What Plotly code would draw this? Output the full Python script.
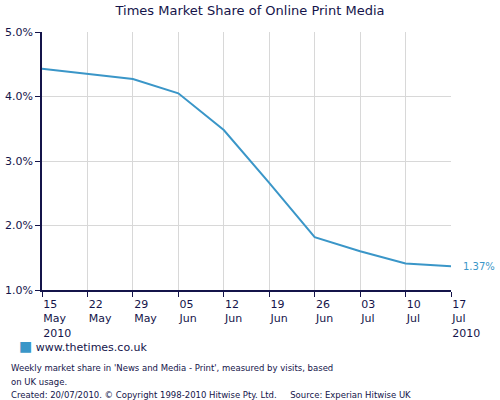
import plotly.graph_objects as go

# weekly data points
weeks = ["15<br>May<br>2010", "22<br>May", "29<br>May", "05<br>Jun", "12<br>Jun",
         "19<br>Jun", "26<br>Jun", "03<br>Jul", "10<br>Jul", "17<br>Jul<br>2010"]
share = [4.43, 4.35, 4.27, 4.05, 3.48, 2.66, 1.82, 1.60, 1.41, 1.37]
ytick_vals = [1.0, 2.0, 3.0, 4.0, 5.0]
site = "www.thetimes.co.uk"

navy = "#14144a"
blue = "#3a96c8"
fnt = "DejaVu Sans"

# plot box in pixels (500x400 page)
L, R, T, B = 42, 49, 32, 110
PW, PH = 500 - L - R, 400 - T - B

xs = list(range(len(share)))

fig = go.Figure()
fig.add_trace(go.Scatter(x=xs, y=share, mode="lines", line=dict(color=blue, width=2),
                         name=site, showlegend=False, hoverinfo="skip"))

fig.add_annotation(x=xs[-1], y=share[-1], xref="x", yref="y", text="%.2f%%" % share[-1],
                   showarrow=False, xanchor="left", xshift=10,
                   font=dict(family=fnt, size=10, color=blue))

# legend key: square swatch + site name
fig.add_annotation(x=(17 - L) / PW, y=(400 - B - 346) / PH, xref="paper", yref="paper",
                   text="<span style='color:%s;font-size:14px'>\u25a0</span> %s" % (blue, site),
                   showarrow=False, xanchor="left", yanchor="middle",
                   font=dict(family=fnt, size=11, color=navy))

foot = ["Weekly market share in 'News and Media - Print', measured by visits, based",
        "on UK usage.",
        "Created: 20/07/2010. \u00a9 Copyright 1998-2010 Hitwise Pty. Ltd.     Source: Experian Hitwise UK"]
for i, t in enumerate(foot):
    px, py = 9, 368 + i * 13.5
    fig.add_annotation(x=(px - L) / PW, y=(400 - B - py) / PH, xref="paper", yref="paper",
                       text=t, showarrow=False, xanchor="left", yanchor="middle",
                       font=dict(family=fnt, size=8.5, color=navy))

fig.update_layout(
    width=500, height=400,
    margin=dict(l=L, r=R, t=T, b=B, autoexpand=False),
    paper_bgcolor="white", plot_bgcolor="white",
    title=dict(text="Times Market Share of Online Print Media", x=0.5, xanchor="center",
               y=0.975, yanchor="middle", font=dict(family=fnt, size=13, color=navy)),
    font=dict(family=fnt, size=11, color=navy),
    showlegend=False,
)
fig.update_xaxes(range=[0, len(share) - 1], tickvals=xs, ticktext=weeks,
                 ticklabelposition="outside right", automargin=False, ticklabelstandoff=3,
                 showline=True, linecolor=navy, linewidth=1.5, ticks="outside", ticklen=5,
                 tickcolor=navy, showgrid=True, gridcolor="#d8d8d8", zeroline=False,
                 tickfont=dict(family=fnt, size=11, color=navy))
fig.update_yaxes(range=[1, 5], tickvals=ytick_vals, ticktext=["%.1f%%" % v for v in ytick_vals],
                 automargin=False,
                 showline=True, linecolor=navy, linewidth=1.5, ticks="outside", ticklen=5,
                 tickcolor=navy, showgrid=True, gridcolor="#d8d8d8", zeroline=False,
                 tickfont=dict(family=fnt, size=11, color=navy))

fig.write_html("out.html", config={"displayModeBar": False},
               post_script="document.body.style.margin='0';")
